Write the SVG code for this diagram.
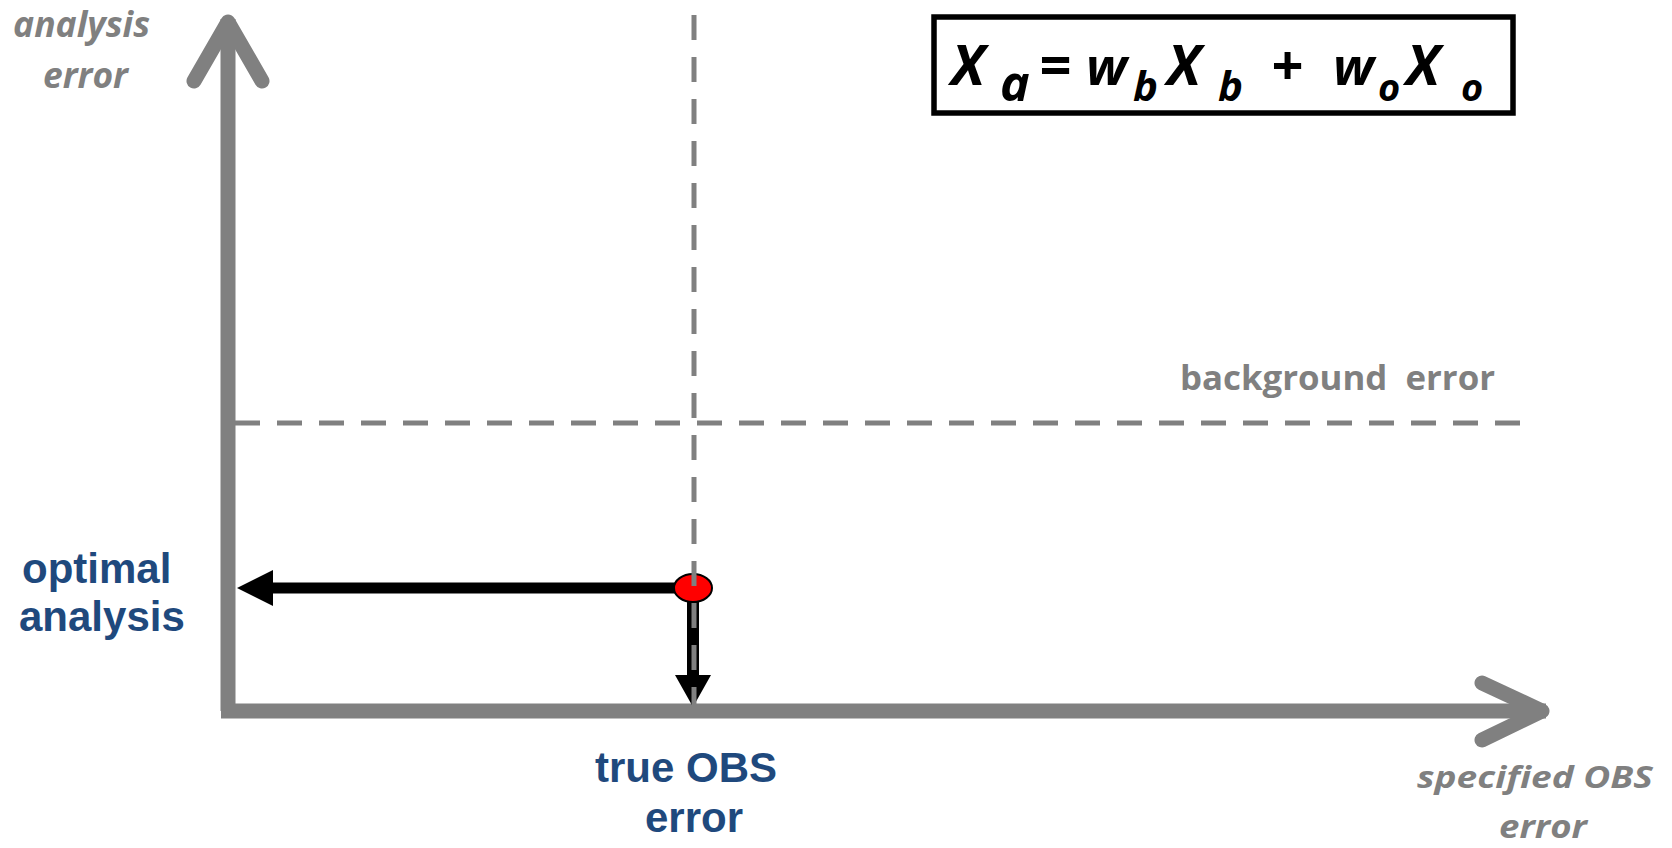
<svg xmlns="http://www.w3.org/2000/svg" width="1672" height="848" viewBox="0 0 1672 848">
<style>
.axis{fill:none;stroke:#808080;stroke-width:15;stroke-linecap:round;stroke-linejoin:round}
.dash{fill:none;stroke:#808080;stroke-width:5;stroke-dasharray:25 17}
.glab{font-family:"Open Sans","Liberation Sans",sans-serif;font-weight:bold;font-style:italic;fill:#808080}
.glab2{font-family:"Open Sans","Liberation Sans",sans-serif;font-weight:bold;fill:#808080}
.blab{font-family:"Liberation Sans",Arial,sans-serif;font-weight:bold;fill:#1F497D;font-size:42px}
.eq{font-family:"Open Sans","Liberation Sans",sans-serif;font-weight:bold;font-style:italic;fill:#000}
</style>
<rect width="1672" height="848" fill="#fff"/>
<g id="axes">
<polyline class="axis" points="228,711 228,19" style="stroke-linecap:butt"/>
<polyline class="axis" points="221,711 1546,711" style="stroke-linecap:butt"/>
<polyline class="axis" points="194,81 228,22 262,81"/>
<polyline class="axis" points="1482,683 1542,711 1482,740"/>
</g>
<g id="background-line">
<line class="dash" x1="235" y1="423" x2="1520" y2="423"/>
</g>
<g id="connectors">
<line x1="273" y1="588" x2="680" y2="588" stroke="#000" stroke-width="11"/>
<polygon points="237,588 273,570 273,606" fill="#000"/>
<line x1="693" y1="595" x2="693" y2="676" stroke="#000" stroke-width="12"/>
<polygon points="675,675 711,675 693,707" fill="#000"/>
</g>
<g id="point">
<ellipse cx="693" cy="588" rx="19" ry="14" fill="#ff0000" stroke="#000" stroke-width="2"/>
</g>
<g id="true-obs-line">
<line class="dash" x1="694" y1="15" x2="694" y2="709"/>
</g>
<g id="formula">
<rect x="934" y="17" width="579" height="96" fill="#fff" stroke="#000" stroke-width="5.5"/>
<text class="eq" font-size="56"><tspan x="951" y="85">X</tspan><tspan x="1039" y="85">=</tspan><tspan x="1086" y="85" font-size="52">w</tspan><tspan x="1167" y="85">X</tspan><tspan x="1271" y="85">+</tspan><tspan x="1333" y="85" font-size="52">w</tspan><tspan x="1406" y="85">X</tspan></text>
<text class="eq"><tspan x="1000" y="101" font-size="50">a</tspan><tspan x="1133" y="101" font-size="42">b</tspan><tspan x="1218" y="101" font-size="42">b</tspan><tspan x="1378" y="101" font-size="38">o</tspan><tspan x="1461" y="101" font-size="38">o</tspan></text>
</g>
<g id="labels">
<text class="glab" font-size="35" x="13" y="37" textLength="137" lengthAdjust="spacingAndGlyphs">analysis</text>
<text class="glab" font-size="36" x="43" y="88" textLength="85" lengthAdjust="spacingAndGlyphs">error</text>
<text class="glab2" font-size="34" x="1180" y="390" textLength="315" lengthAdjust="spacingAndGlyphs" xml:space="preserve">background  error</text>
<text class="glab" font-size="31" x="1417" y="788" textLength="236" lengthAdjust="spacingAndGlyphs">specified OBS</text>
<text class="glab" font-size="32" x="1499" y="838" textLength="88" lengthAdjust="spacingAndGlyphs">error</text>
<text class="blab" x="22" y="583">optimal</text>
<text class="blab" x="19" y="631">analysis</text>
<text class="blab" x="595" y="782">true OBS</text>
<text class="blab" x="645" y="832">error</text>
</g>
</svg>
